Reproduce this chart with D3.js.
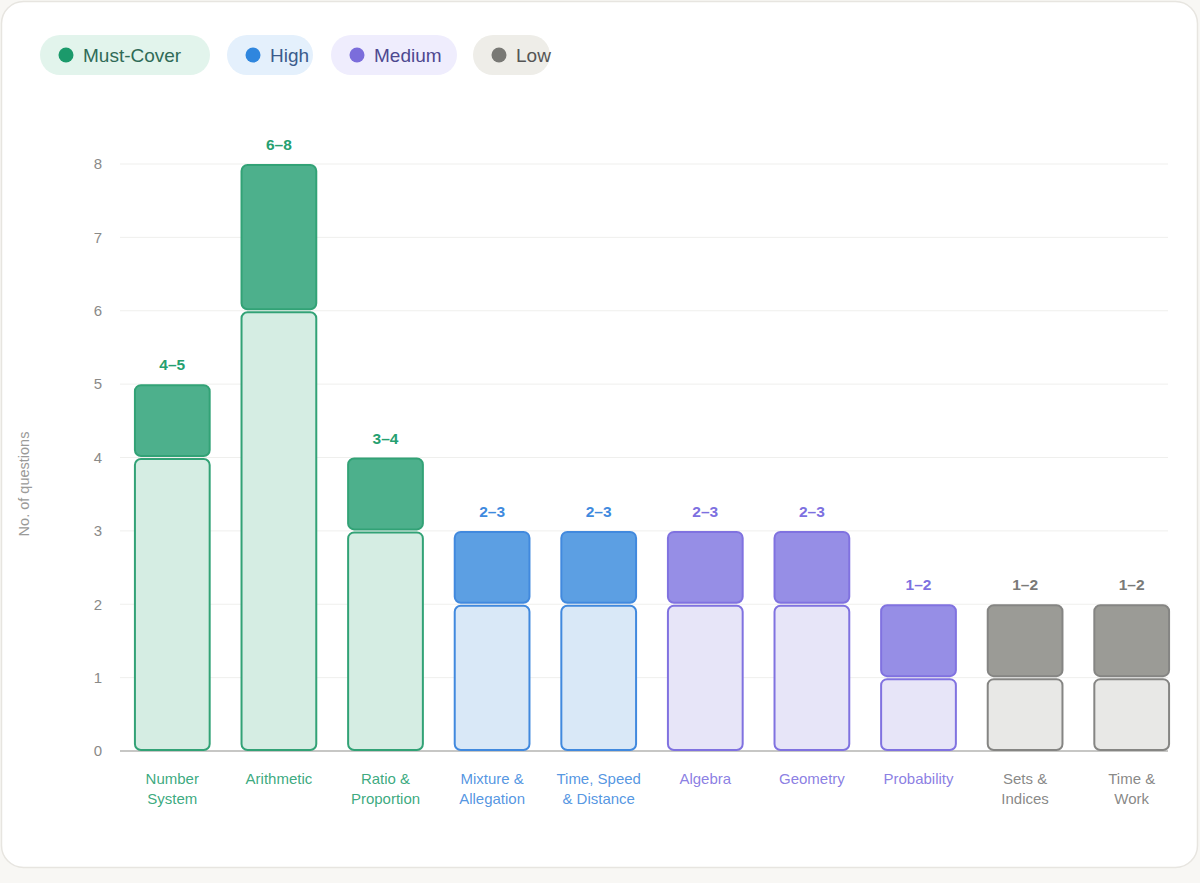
<!DOCTYPE html>
<meta charset="utf-8">
<script src="https://d3js.org/d3.v7.min.js"></script>
<style>
  body { margin: 0; background: #f8f7f4; font-family: 'Liberation Sans', Arial, sans-serif; }
  svg { display: block; }
</style>
<body>
<div id="my_dataviz"></div>
<script>

// chart data
var topics = ["Number System", "Arithmetic", "Ratio & Proportion", "Mixture & Allegation",
              "Time, Speed & Distance", "Algebra", "Geometry", "Probability", "Sets & Indices", "Time & Work"];
var topicLines = [["Number", "System"], ["Arithmetic"], ["Ratio &", "Proportion"], ["Mixture &", "Allegation"],
                  ["Time, Speed", "& Distance"], ["Algebra"], ["Geometry"], ["Probability"], ["Sets &", "Indices"], ["Time &", "Work"]];
var lowCount  = [4, 6, 3, 2, 2, 2, 2, 1, 1, 1];
var highCount = [5, 8, 4, 3, 3, 3, 3, 2, 2, 2];
var tier = ["Must-Cover", "Must-Cover", "Must-Cover", "High", "High", "Medium", "Medium", "Medium", "Low", "Low"];
var tiers = ["Must-Cover", "High", "Medium", "Low"];
var yTicks = [0, 1, 2, 3, 4, 5, 6, 7, 8];

// colours per tier
var palette = {
  "Must-Cover": {dark: "#4db08c", light: "#d5ede3", stroke: "#32a276", text: "#25a070", dot: "#1b9a6b", pill: "#e2f4ec", legendText: "#2f6b57"},
  "High":       {dark: "#5c9fe3", light: "#d9e8f7", stroke: "#4189de", text: "#3f8ade", dot: "#2f86de", pill: "#e4f0fc", legendText: "#3b5b8c"},
  "Medium":     {dark: "#968ee6", light: "#e7e5f8", stroke: "#8072e0", text: "#7d70e0", dot: "#7b6ddb", pill: "#efedfd", legendText: "#4d4890"},
  "Low":        {dark: "#9b9b96", light: "#e8e8e6", stroke: "#858583", text: "#7a7a78", dot: "#797975", pill: "#eeede8", legendText: "#555555"}
};

var W = 1200, H = 883;

var svg = d3.select("#my_dataviz")
  .append("svg")
    .attr("width", W)
    .attr("height", H);

// card
svg.append("rect")
  .attr("x", 1.5).attr("y", 1.5)
  .attr("width", 1196).attr("height", 866)
  .attr("rx", 22)
  .attr("fill", "#ffffff")
  .attr("stroke", "#e7e5e0")
  .attr("stroke-width", 1.5);

// scales
var x = d3.scaleBand()
  .domain(topics)
  .range([119, 1185])
  .paddingInner(0.28)
  .paddingOuter(0.14);

var y = d3.scaleLinear()
  .domain([0, 8])
  .range([751, 164]);

// gridlines
svg.append("g").selectAll("line")
  .data(yTicks)
  .enter().append("line")
    .attr("x1", 120).attr("x2", 1168)
    .attr("y1", function(d) { return y(d); })
    .attr("y2", function(d) { return y(d); })
    .attr("stroke", function(d) { return d === 0 ? "#b5b5b2" : "#efefed"; })
    .attr("stroke-width", function(d) { return d === 0 ? 1.5 : 1; });

// y axis labels
var yAxis = svg.append("g")
  .attr("transform", "translate(102,0)")
  .call(d3.axisLeft(y).tickValues(yTicks).tickSize(0).tickPadding(0).tickFormat(d3.format("d")));
yAxis.select(".domain").remove();
yAxis.selectAll("text")
  .attr("font-family", "'Liberation Sans', Arial, sans-serif")
  .attr("font-size", "15px")
  .attr("fill", "#8a8a88");

// y axis title
svg.append("text")
  .attr("transform", "translate(29,484)rotate(-90)")
  .attr("text-anchor", "middle")
  .attr("font-size", "14.5px")
  .attr("fill", "#9a9a98")
  .text("No. of questions");

// bars
var rows = topics.map(function(t, i) {
  return {topic: t, lo: lowCount[i], hi: highCount[i], tier: tier[i], lines: topicLines[i]};
});

var bars = svg.append("g").selectAll("g")
  .data(rows)
  .enter().append("g");

bars.append("rect")
  .attr("x", function(d) { return x(d.topic) + 1; })
  .attr("y", function(d) { return y(d.lo) + 1.5; })
  .attr("width", x.bandwidth() - 2)
  .attr("height", function(d) { return y(0) - y(d.lo) - 2.5; })
  .attr("rx", 6)
  .attr("fill", function(d) { return palette[d.tier].light; })
  .attr("stroke", function(d) { return palette[d.tier].stroke; })
  .attr("stroke-width", 2);

bars.append("rect")
  .attr("x", function(d) { return x(d.topic) + 1; })
  .attr("y", function(d) { return y(d.hi) + 1; })
  .attr("width", x.bandwidth() - 2)
  .attr("height", function(d) { return y(d.lo) - y(d.hi) - 2.5; })
  .attr("rx", 6)
  .attr("fill", function(d) { return palette[d.tier].dark; })
  .attr("stroke", function(d) { return palette[d.tier].stroke; })
  .attr("stroke-width", 2);

// range labels
bars.append("text")
  .attr("x", function(d) { return x(d.topic) + x.bandwidth() / 2; })
  .attr("y", function(d) { return y(d.hi) - 14; })
  .attr("text-anchor", "middle")
  .attr("font-size", "15.5px")
  .attr("font-weight", "bold")
  .attr("fill", function(d) { return palette[d.tier].text; })
  .text(function(d) { return d.lo + "\u2013" + d.hi; });

// x labels
var xl = bars.append("text")
  .attr("text-anchor", "middle")
  .attr("font-size", "15px")
  .attr("fill", function(d) { return palette[d.tier].text; })
  .attr("fill-opacity", 0.9);
xl.selectAll("tspan")
  .data(function(d) { return d.lines.map(function(l) { return {l: l, cx: x(d.topic) + x.bandwidth() / 2}; }); })
  .enter().append("tspan")
    .attr("x", function(d) { return d.cx; })
    .attr("y", function(d, i) { return 784 + i * 20; })
    .text(function(d) { return d.l; });

// legend pills
var pillX = [40, 227, 331, 473];
var pillW = [170, 86, 126, 77];
var leg = svg.append("g").selectAll("g")
  .data(tiers)
  .enter().append("g")
    .attr("transform", function(d, i) { return "translate(" + pillX[i] + ",35)"; });

leg.append("rect")
  .attr("width", function(d, i) { return pillW[i]; })
  .attr("height", 40)
  .attr("rx", 20)
  .attr("fill", function(d) { return palette[d].pill; });

leg.append("circle")
  .attr("cx", 26).attr("cy", 20).attr("r", 7.5)
  .attr("fill", function(d) { return palette[d].dot; });

leg.append("text")
  .attr("x", 43).attr("y", 27)
  .attr("font-size", "19px")
  .attr("fill", function(d) { return palette[d].legendText; })
  .text(function(d) { return d; });

</script>
</body>
